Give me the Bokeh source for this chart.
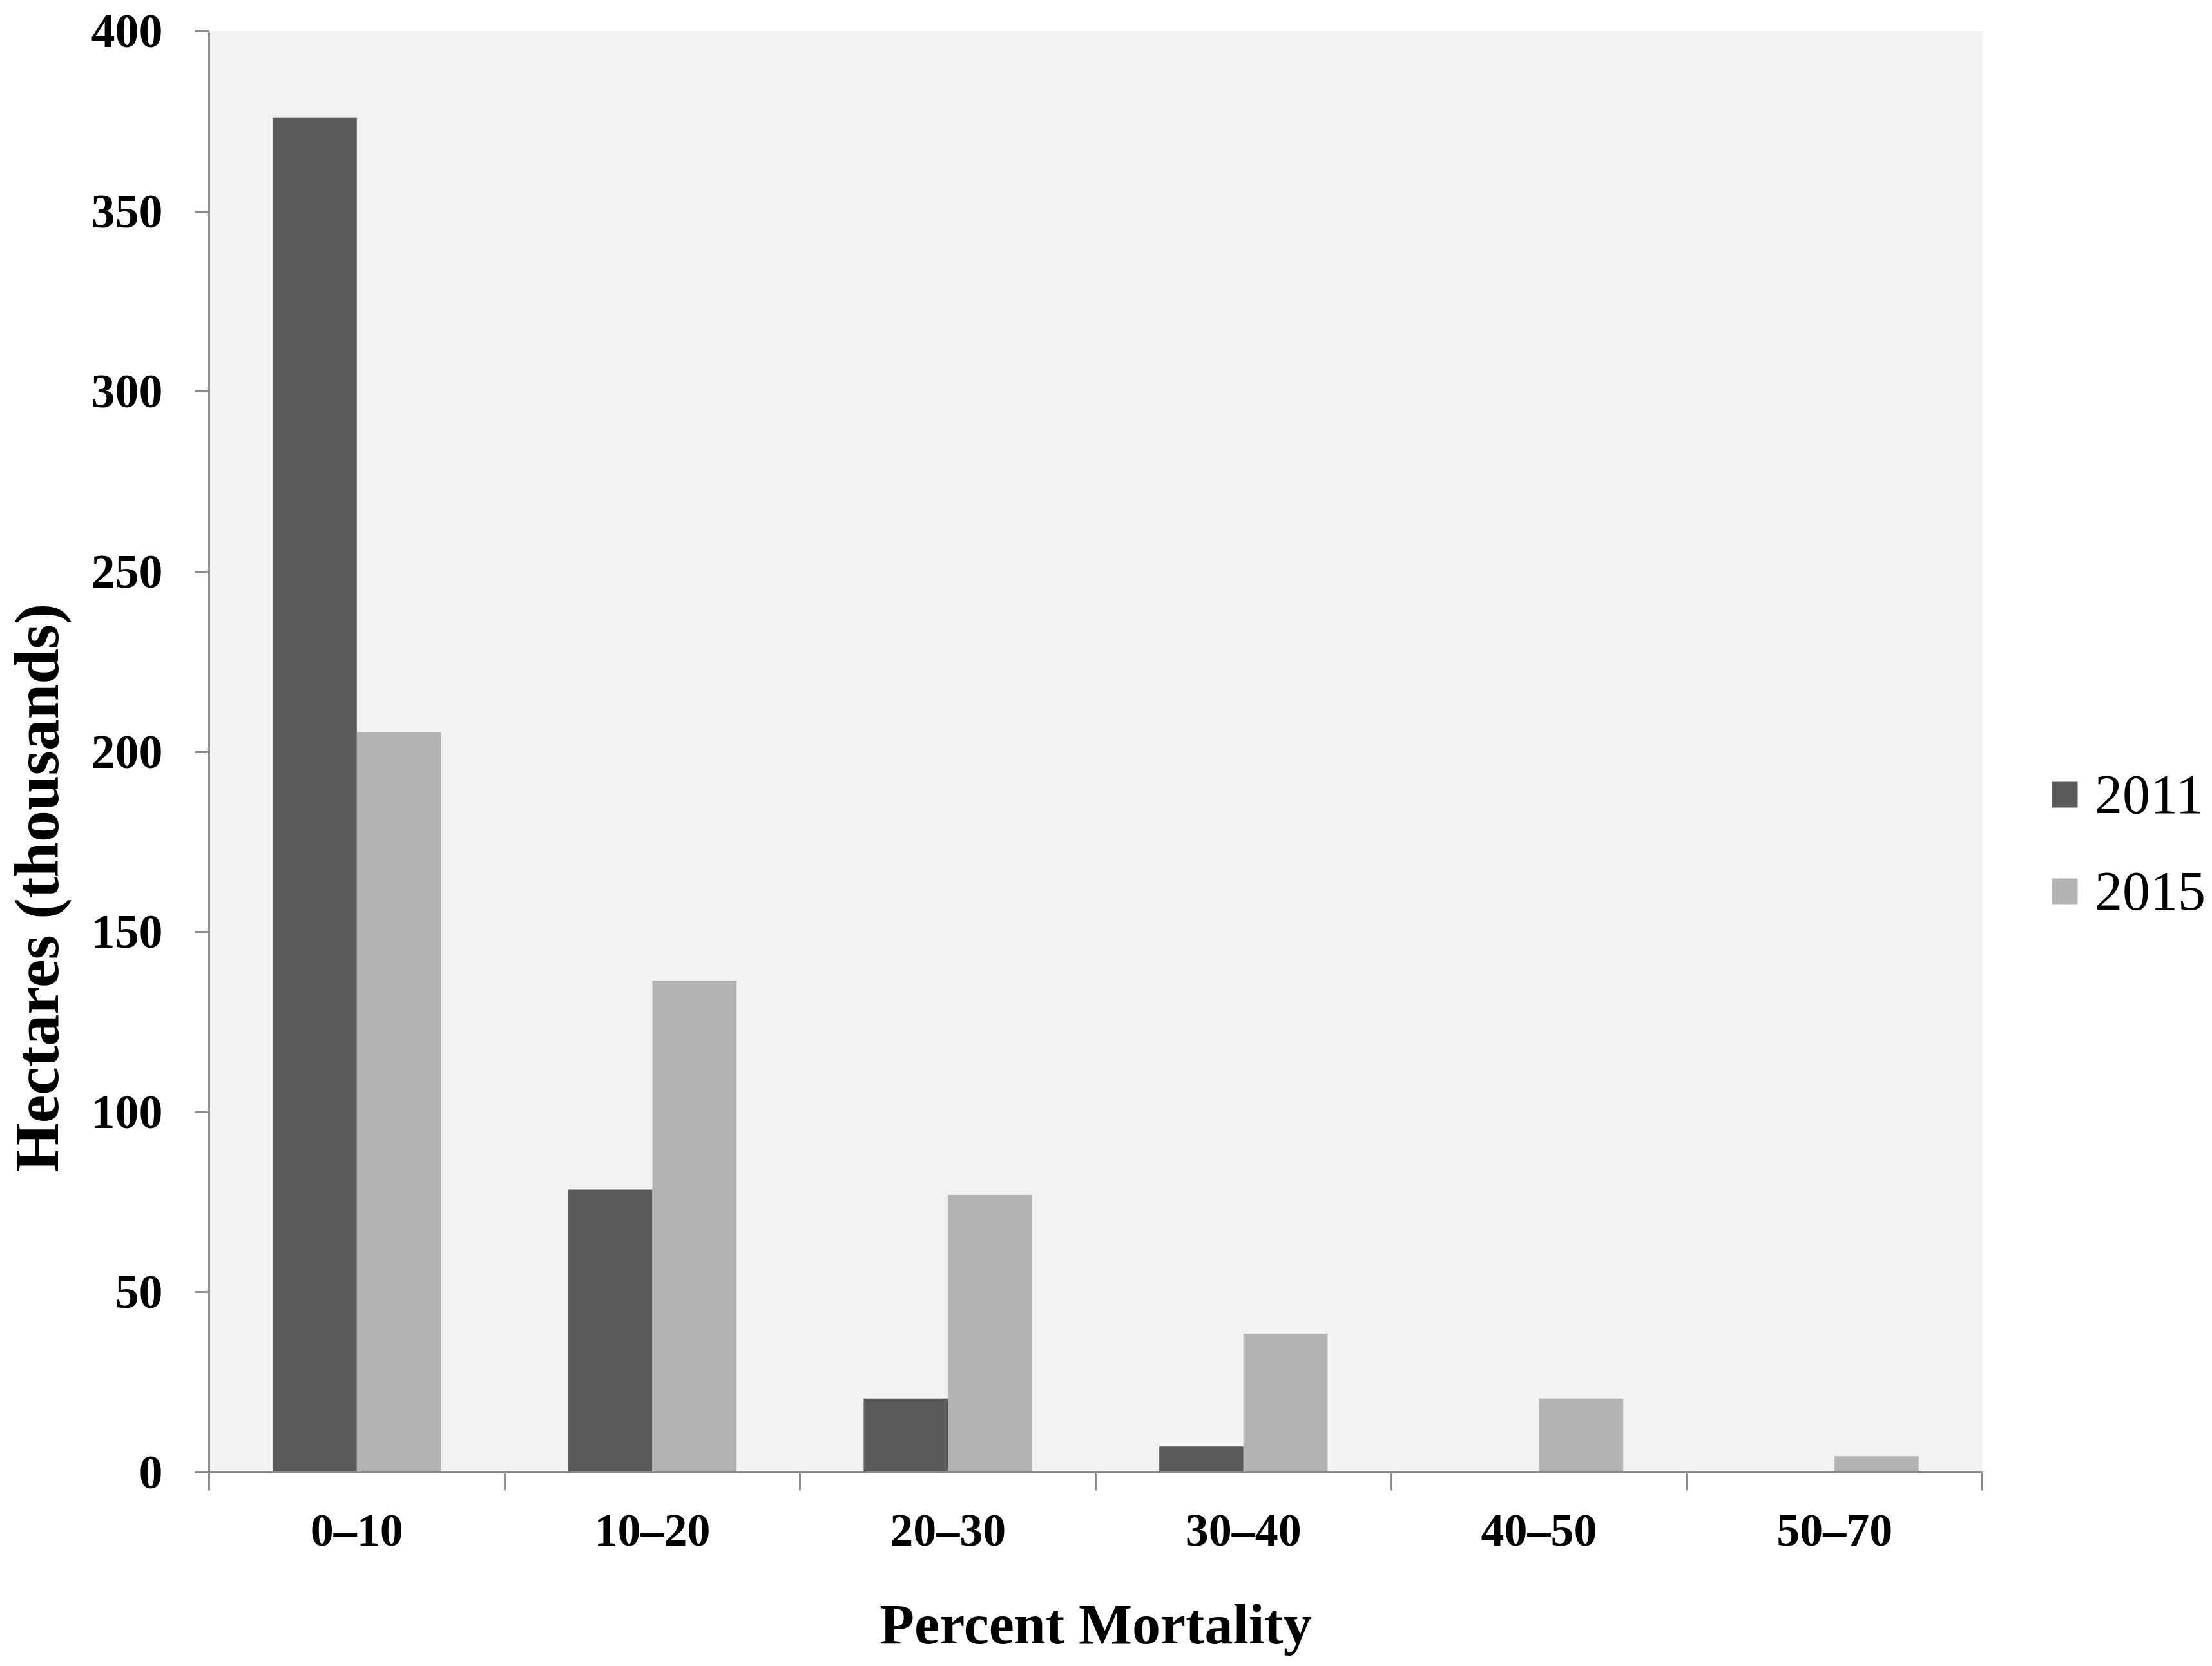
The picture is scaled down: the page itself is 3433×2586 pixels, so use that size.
import numpy as np
from bokeh.plotting import figure
from bokeh.models import (ColumnDataSource, FixedTicker, Legend, LegendItem, Title, Range1d)
from bokeh.embed import file_html
from bokeh.resources import INLINE

# ---- data ----
categories = ["0–10", "10–20", "20–30", "30–40", "40–50", "50–70"]
years = ["2011", "2015"]
values_2011 = [376, 78.5, 20.5, 7.2, 0, 0]
values_2015 = [205.5, 136.5, 77, 38.5, 20.5, 4.5]
y_ticks = [0, 50, 100, 150, 200, 250, 300, 350, 400]

colors = {"2011": "#5a5a5a", "2015": "#b3b3b3"}
font = "Liberation Serif"

n = len(categories)
centers = np.arange(n) + 0.5
bar_w = 0.285

src = ColumnDataSource(dict(
    x11=centers - bar_w / 2, x15=centers + bar_w / 2,
    v11=values_2011, v15=values_2015, cat=categories,
))

p = figure(width=3417, height=2570, frame_width=2752, frame_height=2237,
           output_backend="svg", toolbar_location=None,
           x_range=Range1d(0, n), y_range=Range1d(0, 400),
           min_border_left=324, min_border_top=48, min_border_right=341, min_border_bottom=285)

p.background_fill_color = "#f2f2f2"
p.border_fill_color = "white"
p.outline_line_color = None
p.grid.visible = False

r1 = p.vbar(x="x11", top="v11", width=bar_w, bottom=0, source=src,
            fill_color=colors["2011"], line_color=None)
r2 = p.vbar(x="x15", top="v15", width=bar_w, bottom=0, source=src,
            fill_color=colors["2015"], line_color=None)

axis_color = "#8a8a8a"

# x axis
xa = p.xaxis[0]
xa.ticker = FixedTicker(ticks=list(centers), minor_ticks=list(range(n + 1)))
xa.major_label_overrides = {float(c): lab for c, lab in zip(centers, categories)}
xa.major_tick_line_color = None
xa.major_tick_out = 0
xa.major_tick_in = 0
xa.minor_tick_line_color = axis_color
xa.minor_tick_line_width = 3
xa.minor_tick_out = 28
xa.minor_tick_in = 0
xa.axis_line_color = axis_color
xa.axis_line_width = 3
xa.major_label_text_font = font
xa.major_label_text_font_style = "bold"
xa.major_label_text_font_size = "72px"
xa.major_label_text_color = "black"
xa.major_label_standoff = 21
xa.axis_label = "Percent Mortality"
xa.axis_label_text_font = font
xa.axis_label_text_font_style = "bold"
xa.axis_label_text_font_size = "88px"
xa.axis_label_text_color = "black"
xa.axis_label_standoff = 55

# y axis
ya = p.yaxis[0]
ya.ticker = FixedTicker(ticks=y_ticks, minor_ticks=[])
ya.major_tick_line_color = axis_color
ya.major_tick_line_width = 3
ya.major_tick_out = 22
ya.major_tick_in = 0
ya.minor_tick_line_color = None
ya.axis_line_color = axis_color
ya.axis_line_width = 3
ya.major_label_text_font = font
ya.major_label_text_font_style = "bold"
ya.major_label_text_font_size = "74px"
ya.major_label_text_color = "black"
ya.major_label_standoff = 50
# small spacer between tick labels and the title
ya.axis_label = " "
ya.axis_label_text_font_size = "1px"
ya.axis_label_standoff = 22

ytitle = Title(text="Hectares (thousands)", align="left", offset=466,
               text_font=font, text_font_style="bold", text_font_size="98px",
               text_color="black", standoff=0, vertical_align="top")
p.add_layout(ytitle, "left")

legend = Legend(items=[LegendItem(label=years[0], renderers=[r1]),
                       LegendItem(label=years[1], renderers=[r2])],
                location=(103, 852), orientation="vertical",
                glyph_width=50, glyph_height=50, label_height=50,
                label_standoff=22, spacing=50, padding=0, margin=0,
                label_text_font=font, label_text_font_size="86px",
                label_text_color="black",
                border_line_color=None, background_fill_alpha=0)
p.add_layout(legend, "right")

open("out.html", "w").write(file_html(p, INLINE))
